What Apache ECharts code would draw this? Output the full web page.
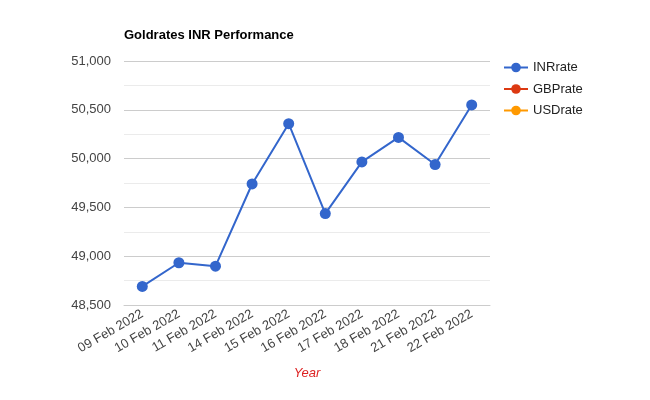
<!DOCTYPE html>
<html><head><meta charset="utf-8">
<script src="https://cdn.jsdelivr.net/npm/echarts@6/dist/echarts.min.js"></script>
<style>html,body{margin:0;padding:0;background:#fff}#c{width:650px;height:400px}</style>
</head><body><div id="c"></div>
<script>
const categories = ['09 Feb 2022','10 Feb 2022','11 Feb 2022','14 Feb 2022','15 Feb 2022','16 Feb 2022','17 Feb 2022','18 Feb 2022','21 Feb 2022','22 Feb 2022'];
const inrRate = [48690, 48933, 48898, 49740, 50358, 49437, 49966, 50217, 49939, 50550];
const gbpRate = [];
const usdRate = [];
const yTicks = {min: 48500, max: 51000, interval: 500};

const chart = echarts.init(document.getElementById('c'));
const font = 'Liberation Sans, Arial, sans-serif';
function mk(name, data, color) {
  return {
    name, type: 'line', data, color,
    symbol: 'circle', symbolSize: 11, showSymbol: true,
    lineStyle: {width: 2, color}, itemStyle: {color},
    emphasis: {disabled: true}
  };
}
chart.setOption({
  animation: false,
  textStyle: {fontFamily: font},
  title: {text: 'Goldrates INR Performance', left: 119, top: 24,
    textStyle: {fontSize: 13, fontWeight: 'bold', color: '#000', fontFamily: font}},
  legend: {orient: 'vertical', left: 498, top: 56, itemWidth: 24, itemHeight: 12, itemGap: 8.5,
    textStyle: {fontSize: 13, color: '#222', fontFamily: font},
    data: ['INRrate','GBPrate','USDrate']},
  grid: {left: 124, right: 160, top: 61, bottom: 95, containLabel: false},
  xAxis: {type: 'category', data: categories, boundaryGap: true,
    name: 'Year', nameLocation: 'middle', nameGap: 62,
    nameTextStyle: {color: '#dd2222', fontStyle: 'italic', fontSize: 13, fontFamily: font},
    axisLine: {show: true, lineStyle: {color: '#cccccc'}},
    axisTick: {show: false},
    axisLabel: {rotate: 30, fontSize: 13, color: '#444', margin: 8, interval: 0, fontFamily: font}},
  yAxis: {type: 'value', min: yTicks.min, max: yTicks.max, interval: yTicks.interval,
    axisLine: {show: false}, axisTick: {show: false},
    axisLabel: {fontSize: 13, color: '#444', margin: 13, fontFamily: font,
      formatter: v => v.toLocaleString('en-US')},
    splitLine: {lineStyle: {color: '#cccccc'}},
    minorTick: {show: false, splitNumber: 2},
    minorSplitLine: {show: true, lineStyle: {color: '#ebebeb'}}},
  series: [mk('INRrate', inrRate, '#3366cc'), mk('GBPrate', gbpRate, '#dc3912'), mk('USDrate', usdRate, '#ff9900')]
});
</script></body></html>
